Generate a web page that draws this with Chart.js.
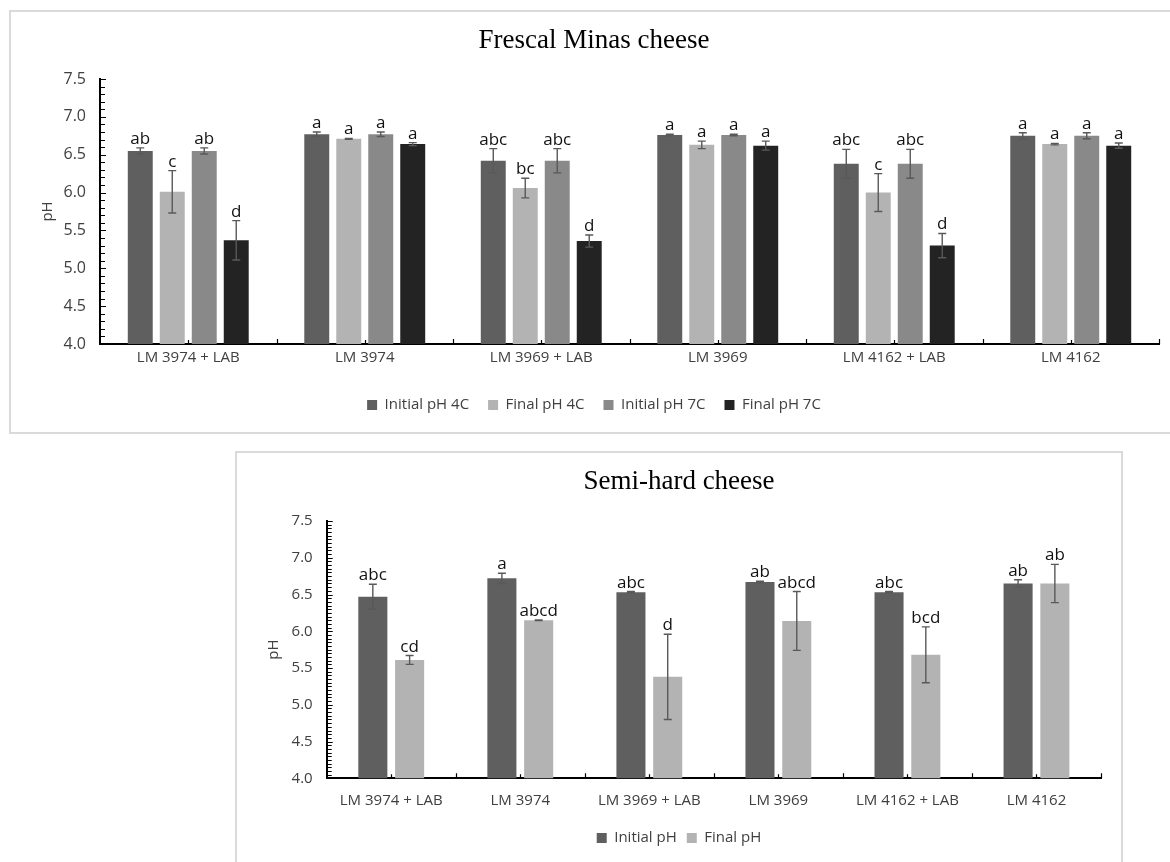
<!DOCTYPE html>
<html>
<head>
<meta charset="utf-8">
<script src="https://cdn.jsdelivr.net/npm/chart.js@4.4.1/dist/chart.umd.min.js"></script>
<style>
  html, body { margin:0; padding:0; background:#fff; width:1170px; height:862px; overflow:hidden; }
  .box { position:absolute; border:2px solid #dadada; box-sizing:border-box; }
  canvas { position:absolute; }
</style>
</head>
<body>
<div class="box" style="left:9px;top:10px;width:1180px;height:424px;"></div>
<div class="box" style="left:235px;top:451px;width:888px;height:500px;"></div>
<canvas id="c1" width="1169" height="418" style="left:11px;top:12px;width:1169px;height:418px;"></canvas>
<canvas id="c2" width="883" height="408" style="left:238px;top:454px;width:883px;height:408px;"></canvas>
<script>
// ---------- data ----------
const categories = ['LM 3974 + LAB', 'LM 3974', 'LM 3969 + LAB', 'LM 3969', 'LM 4162 + LAB', 'LM 4162'];

// Frescal Minas cheese
const initial4C        = [6.55, 6.77, 6.42, 6.76, 6.38, 6.75];
const initial4CErr     = [0.04, 0.03, 0.16, 0.01, 0.19, 0.04];
const initial4CLetters = ['ab', 'a', 'abc', 'a', 'abc', 'a'];
const final4C          = [6.01, 6.71, 6.06, 6.63, 6.00, 6.64];
const final4CErr       = [0.28, 0.005, 0.13, 0.05, 0.25, 0.01];
const final4CLetters   = ['c', 'a', 'bc', 'a', 'c', 'a'];
const initial7C        = [6.55, 6.77, 6.42, 6.76, 6.38, 6.75];
const initial7CErr     = [0.04, 0.03, 0.16, 0.01, 0.19, 0.04];
const initial7CLetters = ['ab', 'a', 'abc', 'a', 'abc', 'a'];
const final7C          = [5.37, 6.64, 5.36, 6.62, 5.30, 6.62];
const final7CErr       = [0.26, 0.02, 0.08, 0.06, 0.16, 0.035];
const final7CLetters   = ['d', 'a', 'd', 'a', 'd', 'a'];

// Semi-hard cheese
const initialPH        = [6.47, 6.72, 6.53, 6.67, 6.53, 6.65];
const initialPHErr     = [0.17, 0.07, 0.01, 0.01, 0.01, 0.05];
const initialPHLetters = ['abc', 'a', 'abc', 'ab', 'abc', 'ab'];
const finalPH          = [5.61, 6.15, 5.38, 6.14, 5.68, 6.65];
const finalPHErr       = [0.06, 0.005, 0.58, 0.40, 0.38, 0.26];
const finalPHLetters   = ['cd', 'abcd', 'd', 'abcd', 'bcd', 'ab'];

const yTickLabels = ['4.0', '4.5', '5.0', '5.5', '6.0', '6.5', '7.0', '7.5'];
const yMin = 4.0, yMax = 7.5;

// ---------- styling ----------
const SANS = "'Open Sans', 'DejaVu Sans', sans-serif";
const SERIF = "'Liberation Serif', 'Times New Roman', serif";
const C_INIT = '#5f5f5f', C_FIN = '#b3b3b3', C_INIT7 = '#898989', C_FIN7 = '#232323';
const TXT = '#404040';
Chart.defaults.font.family = SANS;

// plugin: error bars, letters, inward ticks
const decor = {
  id: 'decor',
  afterDatasetsDraw(chart) {
    const ctx = chart.ctx;
    const ys = chart.scales.y, xs = chart.scales.x;
    const area = chart.chartArea;
    const minor = chart.options.plugins.decor.minorStep;
    ctx.save();
    // error bars + significance letters
    chart.data.datasets.forEach((ds, di) => {
      const meta = chart.getDatasetMeta(di);
      meta.data.forEach((el, i) => {
        const v = ds.data[i], e = ds.errors[i];
        const yt = ys.getPixelForValue(v + e), yb = ys.getPixelForValue(v - e);
        ctx.strokeStyle = '#595959';
        ctx.lineWidth = 1.4;
        ctx.beginPath();
        ctx.moveTo(el.x, yt); ctx.lineTo(el.x, yb);
        ctx.moveTo(el.x - 4, yt); ctx.lineTo(el.x + 4, yt);
        ctx.moveTo(el.x - 4, yb); ctx.lineTo(el.x + 4, yb);
        ctx.stroke();
        ctx.fillStyle = '#111';
        ctx.font = '17px ' + SANS;
        ctx.textAlign = 'center';
        ctx.textBaseline = 'alphabetic';
        ctx.fillText(ds.letters[i], el.x, yt - 4);
      });
    });
    // y minor ticks (inward)
    ctx.strokeStyle = '#000';
    ctx.lineWidth = 1.2;
    const n = Math.round((yMax - yMin) / minor);
    const perMajor = Math.round(0.5 / minor);
    ctx.beginPath();
    for (let k = 0; k <= n; k++) {
      const p = Math.round(ys.getPixelForValue(yMin + k * minor)) + 0.5;
      const len = (k % perMajor === 0) ? 5 : 4;
      ctx.moveTo(area.left, p); ctx.lineTo(area.left + 1 + len, p);
    }
    ctx.stroke();
    // x ticks (inward) at category boundaries and centres
    const half = (xs.getPixelForValue(1) - xs.getPixelForValue(0)) / 2;
    ctx.beginPath();
    for (let i = 0; i < chart.data.labels.length; i++) {
      const c = Math.round(xs.getPixelForValue(i)) + 0.5;
      ctx.moveTo(c, area.bottom); ctx.lineTo(c, area.bottom - 4);
      const b = Math.round(xs.getPixelForValue(i) + half) + 0.5;
      ctx.moveTo(b, area.bottom); ctx.lineTo(b, area.bottom - 5);
    }
    ctx.stroke();
    ctx.restore();
  }
};

function makeOptions(cfg) {
  return {
    responsive: false,
    animation: false,
    devicePixelRatio: 1,
    layout: { padding: cfg.pad },
    datasets: { bar: { categoryPercentage: cfg.catPct, barPercentage: cfg.barPct } },
    plugins: {
      decor: { minorStep: cfg.minorStep },
      title: {
        display: true, text: cfg.title, color: '#000',
        font: { family: SERIF, size: 27, weight: 'normal' },
        padding: cfg.titlePad
      },
      legend: {
        position: 'bottom',
        labels: { boxWidth: 10, boxHeight: 10, padding: cfg.legendPad, color: TXT, font: { size: 15 } }
      },
      tooltip: { enabled: false }
    },
    scales: {
      x: {
        grid: { display: false, drawTicks: false },
        border: { display: true, color: '#000', width: 2 },
        ticks: { padding: cfg.xPad, color: TXT, font: { size: 15 }, maxRotation: 0, autoSkip: false },
        afterFit: s => { s.height = cfg.xHeight; }
      },
      y: {
        min: yMin, max: yMax,
        grid: { display: false, drawTicks: false },
        border: { display: true, color: '#000', width: 2 },
        ticks: {
          stepSize: 0.5, padding: 14, color: TXT, font: { size: cfg.yTickSize },
          callback: (v) => yTickLabels[Math.round((v - yMin) / 0.5)]
        },
        title: { display: true, text: 'pH', color: TXT, font: { size: 15 }, padding: { top: cfg.yTitlePad, bottom: 0 } },
        afterFit: s => { s.width = cfg.yWidth; }
      }
    }
  };
}

new Chart(document.getElementById('c1'), {
  type: 'bar',
  data: {
    labels: categories,
    datasets: [
      { label: 'Initial pH 4C', data: initial4C, errors: initial4CErr, letters: initial4CLetters, backgroundColor: C_INIT },
      { label: 'Final pH 4C', data: final4C, errors: final4CErr, letters: final4CLetters, backgroundColor: C_FIN },
      { label: 'Initial pH 7C', data: initial7C, errors: initial7CErr, letters: initial7CLetters, backgroundColor: C_INIT7 },
      { label: 'Final pH 7C', data: final7C, errors: final7CErr, letters: final7CLetters, backgroundColor: C_FIN7 }
    ]
  },
  options: makeOptions({
    title: 'Frescal Minas cheese',
    pad: { left: 18, right: 21, top: 0, bottom: 7.5 },
    titlePad: { top: 12.8, bottom: 21.8 },
    legendPad: 19, xPad: 5, xHeight: 34.5, yWidth: 71, yTitlePad: 10, yTickSize: 16,
    catPct: 0.725, barPct: 0.78, minorStep: 0.1
  }),
  plugins: [decor]
});

new Chart(document.getElementById('c2'), {
  type: 'bar',
  data: {
    labels: categories,
    datasets: [
      { label: 'Initial pH', data: initialPH, errors: initialPHErr, letters: initialPHLetters, backgroundColor: C_INIT },
      { label: 'Final pH', data: finalPH, errors: finalPHErr, letters: finalPHLetters, backgroundColor: C_FIN }
    ]
  },
  options: makeOptions({
    title: 'Semi-hard cheese',
    pad: { left: 19, right: 20, top: 0, bottom: 6.5 },
    titlePad: { top: 11.8, bottom: 22.8 },
    legendPad: 10, xPad: 13.7, xHeight: 42.2, yWidth: 69.7, yTitlePad: 7.5, yTickSize: 15,
    catPct: 0.57, barPct: 0.79, minorStep: 0.05
  }),
  plugins: [decor]
});
</script>
</body>
</html>
